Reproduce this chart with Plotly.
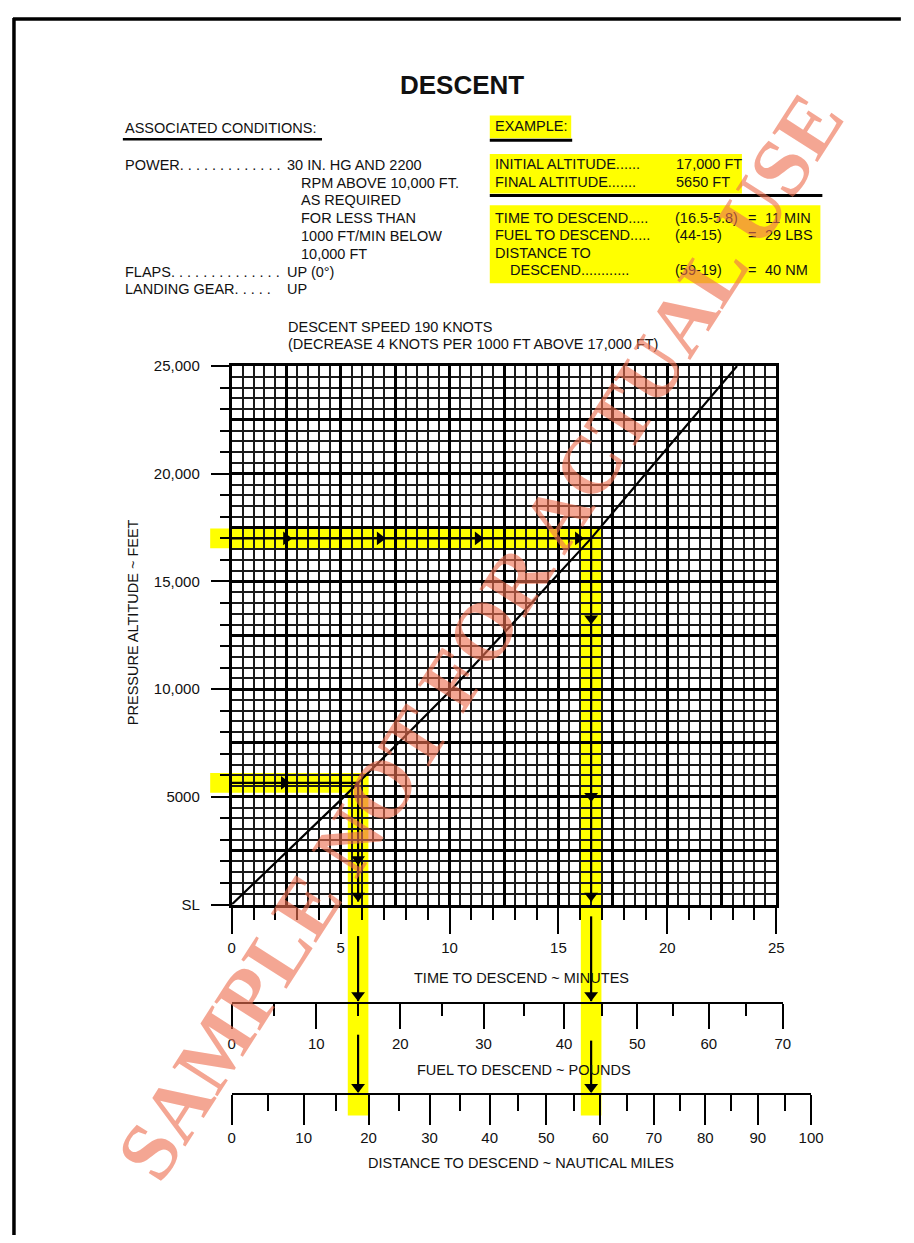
import plotly.graph_objects as go

PAGE_W, PAGE_H = 914, 1243
OFF = 8                      # browser default body margin
W, H = PAGE_W - 2 * OFF, PAGE_H - 2 * OFF

# ---------------- data ----------------
time_ticks = [0, 5, 10, 15, 20, 25]
alt_ticks = [0, 5000, 10000, 15000, 20000, 25000]
alt_tick_labels = ["SL", "5000", "10,000", "15,000", "20,000", "25,000"]

# descent curve: pressure altitude (ft) vs time to descend (min)
curve_alt = [0, 2500, 5000, 7500, 10000, 12500, 15000, 17000, 20000, 22500, 25000]
curve_time = [0, 2.6, 5.15, 7.65, 10.1, 12.4, 14.7, 16.5, 19.0, 21.1, 23.2]

# fuel scale (lb) and the time position of each scale mark
fuel_values = [0, 5, 10, 15, 20, 25, 30, 35, 40, 45, 50, 55, 60, 65, 70]
fuel_time = [0, 1.95, 3.88, 5.8, 7.74, 9.66, 11.56, 13.42, 15.26, 16.98,
             18.62, 20.26, 21.9, 23.6, 25.3]

# distance scale (NM) and the time position of each scale mark
dist_values = [0, 5, 10, 15, 20, 25, 30, 35, 40, 45, 50, 55, 60, 65, 70,
               75, 80, 85, 90, 95, 100]
dist_time = [0, 1.68, 3.3, 4.8, 6.28, 7.68, 9.08, 10.48, 11.84, 13.15, 14.44,
             15.7, 16.92, 18.15, 19.38, 20.56, 21.74, 22.94, 24.15, 25.38, 26.6]

# worked example
initial_alt, final_alt = 17000, 5650
t_initial, t_final = 16.5, 5.8

# ---------------- layout constants (page pixels) ----------------
GRID_L, GRID_R, GRID_T, GRID_B = 232, 787, 362, 908
FUEL_Y, DIST_Y = 1008, 1100
PX_MIN = (GRID_R - GRID_L) / 25.0
PX_FT = (GRID_B - GRID_T) / 25000.0
FONT = "Liberation Sans, Arial, sans-serif"
YEL = "#ffff00"


def px(xp):
    return (xp - OFF) / W


def py(yp):
    return 1 - (yp - OFF) / H


def alt_at(yp):
    """canvas altitude units for a page row"""
    return (GRID_B - yp) / PX_FT


cx_range = [(OFF - GRID_L) / PX_MIN, (OFF + W - GRID_L) / PX_MIN]
cy_range = [(GRID_B - (OFF + H)) / PX_FT, (GRID_B - OFF) / PX_FT]

fig = go.Figure()

# ---------------- yellow highlight bands (canvas subplot, below grid) ----------------
hw = 10.5 / PX_MIN   # half width of vertical band (min)
hh = 10.0 / PX_FT    # half height of horizontal band (ft)
band_left = -22 / PX_MIN
band_bottom = alt_at(1122)


def rect(x0, x1, y0, y1):
    return [x0, x1, x1, x0, x0], [y0, y0, y1, y1, y0]


for (ta, al) in [(t_initial, initial_alt), (t_final, final_alt)]:
    for xs, ys in [rect(band_left, ta + hw, al - hh, al + hh),
                   rect(ta - hw, ta + hw, band_bottom, al + hh)]:
        fig.add_trace(go.Scatter(x=xs, y=ys, xaxis="x", yaxis="y", mode="lines",
                                 fill="toself", fillcolor=YEL, line=dict(width=0),
                                 hoverinfo="skip", showlegend=False))

# ---------------- grid subplot with descent line ----------------
fig.add_trace(go.Scatter(x=curve_time, y=curve_alt, xaxis="x2", yaxis="y2",
                         mode="lines", line=dict(color="#000", width=2.2),
                         hoverinfo="skip", showlegend=False))
# dummy traces so overlay / free axes are drawn
for xa, ya in [("x3", "y2"), ("x2", "y3")]:
    fig.add_trace(go.Scatter(x=[0], y=[0], xaxis=xa, yaxis=ya, mode="markers",
                             marker=dict(opacity=0), hoverinfo="skip", showlegend=False))
fig.add_trace(go.Scatter(x=[fuel_time[0]], y=[0], xaxis="x4", yaxis="y", mode="markers",
                         marker=dict(opacity=0), hoverinfo="skip", showlegend=False))
fig.add_trace(go.Scatter(x=[dist_time[0]], y=[0], xaxis="x5", yaxis="y", mode="markers",
                         marker=dict(opacity=0), hoverinfo="skip", showlegend=False))

# ---------------- example arrows (canvas subplot on top) ----------------
lx, ly = [], []
for ta, al in [(t_initial, initial_alt), (t_final, final_alt)]:
    lx += [0, ta, None]
    ly += [al, al, None]
right_segs = [(initial_alt, alt_at(905)), (alt_at(920), alt_at(1006)), (alt_at(1046), alt_at(1098))]
left_segs = [(final_alt, alt_at(905)), (alt_at(940), alt_at(1006)), (alt_at(1040), alt_at(1098))]
for ta, segs in [(t_initial, right_segs), (t_final, left_segs)]:
    for a0, a1 in segs:
        lx += [ta, ta, None]
        ly += [a0, a1, None]
fig.add_trace(go.Scatter(x=lx, y=ly, xaxis="x6", yaxis="y6", mode="lines",
                         line=dict(color="#000", width=2.2), hoverinfo="skip",
                         showlegend=False))

h_heads_t = [2.5, 6.8, 11.3, 15.9]
fig.add_trace(go.Scatter(x=h_heads_t + [2.4], y=[initial_alt] * 4 + [final_alt],
                         xaxis="x6", yaxis="y6", mode="markers",
                         marker=dict(symbol="triangle-right", size=12, color="#000"),
                         hoverinfo="skip", showlegend=False))
r_heads = [618, 798, 899, 1000, 1093]
l_heads = [862, 899, 1000, 1093]
fig.add_trace(go.Scatter(x=[t_initial] * len(r_heads) + [t_final] * len(l_heads),
                         y=[alt_at(v) for v in r_heads + l_heads],
                         xaxis="x6", yaxis="y6", mode="markers",
                         marker=dict(symbol="triangle-down", size=12, color="#000"),
                         hoverinfo="skip", showlegend=False))

tickfont = dict(family=FONT, size=15, color="#111")
grid_x_dom = [px(GRID_L), px(GRID_R)]
grid_y_dom = [py(GRID_B), py(GRID_T)]

fig.update_layout(
    width=W, height=H, autosize=False,
    margin=dict(l=0, r=0, t=0, b=0),
    paper_bgcolor="white", plot_bgcolor="rgba(0,0,0,0)",
    showlegend=False,
    xaxis=dict(domain=[0, 1], range=cx_range, visible=False, fixedrange=True),
    yaxis=dict(domain=[0, 1], range=cy_range, visible=False, fixedrange=True),
    xaxis2=dict(domain=grid_x_dom, range=[0, 25], anchor="y2",
                tickmode="linear", tick0=0, dtick=2.5,
                showgrid=True, gridcolor="#000", gridwidth=3,
                minor=dict(tickmode="linear", tick0=0, dtick=0.5, showgrid=True,
                           gridcolor="#1a1a1a", gridwidth=2.1),
                showticklabels=False, ticks="", zeroline=False,
                showline=True, mirror=True, linecolor="#000", linewidth=2.8),
    yaxis2=dict(domain=grid_y_dom, range=[0, 25000], anchor="x2",
                tickmode="linear", tick0=0, dtick=2500,
                showgrid=True, gridcolor="#000", gridwidth=3,
                minor=dict(tickmode="linear", tick0=0, dtick=500, showgrid=True,
                           gridcolor="#1a1a1a", gridwidth=2.1),
                showticklabels=False, ticks="", zeroline=False,
                showline=True, mirror=True, linecolor="#000", linewidth=2.8),
    xaxis3=dict(overlaying="x2", anchor="y2", side="bottom", range=[0, 25],
                tickmode="array", tickvals=time_ticks,
                ticktext=[str(v) for v in time_ticks],
                ticks="outside", ticklen=28, tickwidth=2.2, tickcolor="#000",
                minor=dict(tickmode="linear", tick0=0, dtick=1, ticks="outside",
                           ticklen=14, tickwidth=2.2, tickcolor="#000", showgrid=False),
                showgrid=False, zeroline=False, showline=False,
                tickfont=tickfont, ticklabelstandoff=1),
    yaxis3=dict(overlaying="y2", anchor="x2", side="left", range=[0, 25000],
                tickmode="array", tickvals=alt_ticks, ticktext=alt_tick_labels,
                ticks="outside", ticklen=20, tickwidth=2.2, tickcolor="#000",
                minor=dict(tickmode="linear", tick0=0, dtick=1000, ticks="outside",
                           ticklen=11, tickwidth=2.2, tickcolor="#000", showgrid=False),
                showgrid=False, zeroline=False, showline=False,
                tickfont=tickfont, ticklabelstandoff=8),
    xaxis4=dict(anchor="free", position=py(FUEL_Y), side="bottom",
                domain=[px(GRID_L), px(GRID_L + fuel_time[-1] * PX_MIN)],
                range=[0, fuel_time[-1]],
                tickmode="array", tickvals=fuel_time[::2],
                ticktext=[str(v) for v in fuel_values[::2]],
                ticks="outside", ticklen=25, tickwidth=2.2, tickcolor="#000",
                minor=dict(tickmode="array", tickvals=fuel_time[1::2], ticks="outside",
                           ticklen=12, tickwidth=2.2, tickcolor="#000", showgrid=False),
                showgrid=False, zeroline=False, showline=True, linecolor="#000",
                linewidth=2.2, tickfont=tickfont, ticklabelstandoff=2),
    xaxis5=dict(anchor="free", position=py(DIST_Y), side="bottom",
                domain=[px(GRID_L), px(GRID_L + dist_time[-1] * PX_MIN)],
                range=[0, dist_time[-1]],
                tickmode="array", tickvals=dist_time[::2],
                ticktext=[str(v) for v in dist_values[::2]],
                ticks="outside", ticklen=30, tickwidth=2.2, tickcolor="#000",
                minor=dict(tickmode="array", tickvals=dist_time[1::2], ticks="outside",
                           ticklen=16, tickwidth=2.2, tickcolor="#000", showgrid=False),
                showgrid=False, zeroline=False, showline=True, linecolor="#000",
                linewidth=2.2, tickfont=tickfont, ticklabelstandoff=0),
    xaxis6=dict(domain=[0, 1], range=cx_range, anchor="y6", visible=False, fixedrange=True),
    yaxis6=dict(domain=[0, 1], range=cy_range, anchor="x6", visible=False, fixedrange=True),
)

# ---------------- header text ----------------
ann = []


def txt(s, x, y, size=14.5, xanchor="left", bold=False, angle=0, color="#111", fam=FONT):
    ann.append(dict(text=s, x=px(x), y=py(y), xref="paper", yref="paper",
                    xanchor=xanchor, yanchor="middle", showarrow=False,
                    textangle=angle,
                    font=dict(family=fam, size=size, color=color,
                              weight="bold" if bold else "normal")))


txt("DESCENT", 467, 77, size=26, xanchor="center", bold=True)
txt("ASSOCIATED CONDITIONS:", 121, 121)

cond_labels = ["POWER" + ". " * 13, "FLAPS" + ". " * 14, "LANDING GEAR" + ". " * 5]
cond_label_y = [158, 267, 284]
for s, y in zip(cond_labels, cond_label_y):
    txt(s, 121, y)

cond_values = ["30 IN. HG AND 2200", "RPM ABOVE 10,000 FT.", "AS REQUIRED",
               "FOR LESS THAN", "1000 FT/MIN BELOW", "10,000 FT", "UP (0°)", "UP"]
cond_value_x = [286, 301, 301, 301, 301, 301, 286, 286]
cond_value_y = [158, 176, 194, 212, 230, 248, 267, 284]
for s, x, y in zip(cond_values, cond_value_x, cond_value_y):
    txt(s, x, y)

txt("EXAMPLE:", 498, 119)
ex_labels = ["INITIAL ALTITUDE" + "." * 6, "FINAL ALTITUDE" + "." * 7,
             "TIME TO DESCEND" + "." * 5, "FUEL TO DESCEND" + "." * 5,
             "DISTANCE TO", "DESCEND" + "." * 12]
ex_label_x = [498, 498, 498, 498, 498, 514]
ex_label_y = [157, 175, 212, 229, 247, 265]
for s, x, y in zip(ex_labels, ex_label_x, ex_label_y):
    txt(s, x, y)
txt("17,000 FT", 683, 157)
txt("5650 FT", 683, 175)
ex_expr = ["(16.5-5.8)", "(44-15)", "(59-19)"]
ex_result = ["11 MIN", "29 LBS", "40 NM"]
ex_y = [212, 229, 265]
for e, r, y in zip(ex_expr, ex_result, ex_y):
    txt(e, 682, y)
    txt("=", 756, y)
    txt(r, 774, y)

txt("DESCENT SPEED 190 KNOTS", 287, 322)
txt("(DECREASE 4 KNOTS PER 1000 FT ABOVE 17,000 FT)", 287, 340)

txt("TIME TO DESCEND ~ MINUTES", 527, 983, xanchor="center")
txt("FUEL TO DESCEND ~ POUNDS", 530, 1076, xanchor="center")
txt("DISTANCE TO DESCEND ~ NAUTICAL MILES", 527, 1170, xanchor="center")
ann.append(dict(text="PRESSURE ALTITUDE ~ FEET", x=px(132), y=py(622),
                xref="paper", yref="paper", xanchor="center", yanchor="middle",
                showarrow=False, textangle=-90,
                font=dict(family=FONT, size=14.5, color="#111")))

# watermark
ann.append(dict(text="SAMPLE NOT FOR ACTUAL USE", x=px(485), y=py(636),
                xref="paper", yref="paper", xanchor="center", yanchor="middle",
                showarrow=False, textangle=-57.3,
                font=dict(family="Liberation Serif, Times New Roman, serif", size=82,
                          color="rgba(238,112,80,0.62)", weight="bold")))

shapes = []


def prect(x0, y0, x1, y1, color=YEL):
    shapes.append(dict(type="rect", xref="paper", yref="paper", x0=px(x0), x1=px(x1),
                       y0=py(y1), y1=py(y0), fillcolor=color, line=dict(width=0),
                       layer="below"))


def pline(x0, y0, x1, y1, w):
    shapes.append(dict(type="line", xref="paper", yref="paper", x0=px(x0), x1=px(x1),
                       y0=py(y0), y1=py(y1), line=dict(color="#000", width=w)))


prect(495, 108, 578, 131)
prect(495, 147, 752, 187)
prect(495, 199, 832, 278)
pline(121, 132, 324, 132, 2.5)
pline(495, 133, 579, 133, 3)
pline(495, 189, 834, 189, 3)
# page frame
pline(9, 10, 914, 10, 3.5)
pline(10, 9, 10, 1243, 3.5)

fig.update_layout(annotations=ann, shapes=shapes)
fig.write_html("out.html", config={"displayModeBar": False})
